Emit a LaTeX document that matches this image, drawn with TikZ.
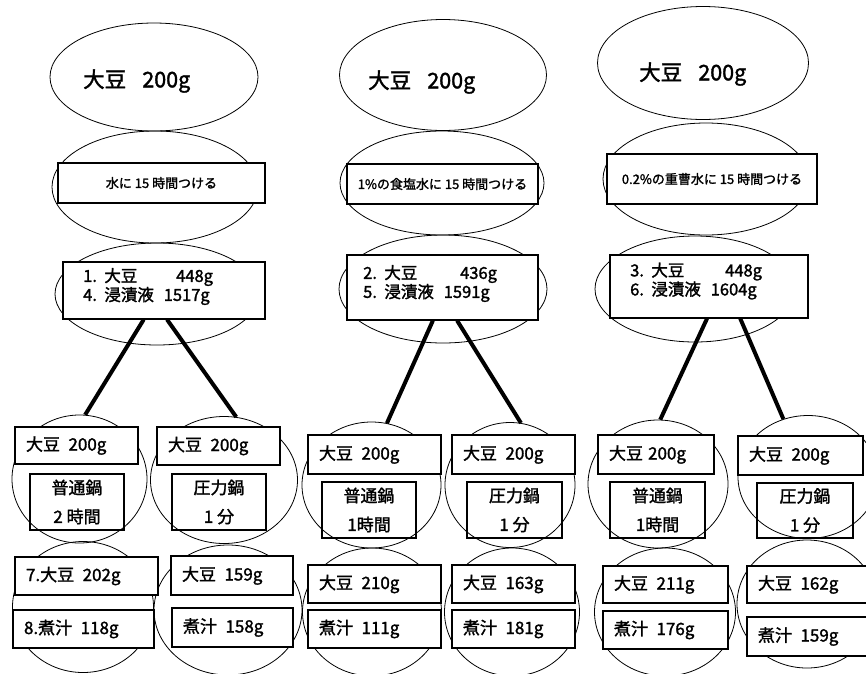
\documentclass[tikz,border=0pt]{standalone}
\usepackage{fontspec}
\setmainfont{Noto Sans CJK JP}[FakeBold=1.6]
\usetikzlibrary{shapes.geometric,calc}
\tikzset{
 el/.style={ellipse, draw, line width=0.8pt, inner sep=0pt},
 bx/.style={rectangle, draw, line width=1.1pt, fill=white, inner sep=0pt},
 pot/.style={fill=none, align=center, font=\fontsize{17}{29}\selectfont},
 link/.style={line width=4pt},
 big/.style={font=\fontsize{21.5}{25}\selectfont, inner sep=0pt, anchor=west},
 soak/.style={font=\fontsize{13}{15}\selectfont},
 res/.style={font=\fontsize{16.5}{19}\selectfont, inner sep=0pt, anchor=west, align=left},
 sm/.style={font=\fontsize{17}{20}\selectfont},
}
\newcommand\jbox[7]{%
  \pgfmathsetmacro\jbw{#5-#3}%
  \pgfmathsetmacro\jbh{#6-#4}%
  \pgfmathsetmacro\jbcx{(#3+#5)/2}%
  \pgfmathsetmacro\jbcy{(#4+#6)/2}%
  \node[bx, minimum width=\jbw pt, minimum height=\jbh pt, #1] (#2) at (\jbcx,\jbcy) {#7};}
\newcommand\lbox[7]{%
  \pgfmathsetmacro\jbw{#5-#3}%
  \pgfmathsetmacro\jbtw{#5-#3-22}%
  \pgfmathsetmacro\jbh{#6-#4}%
  \pgfmathsetmacro\jbcx{(#3+#5)/2}%
  \pgfmathsetmacro\jbcy{(#4+#6)/2}%
  \node[bx, minimum width=\jbw pt, minimum height=\jbh pt, #1] (#2) at (\jbcx,\jbcy) {\makebox[\jbtw pt][l]{#7}};}
\begin{document}
\begin{tikzpicture}[x=1pt,y=-1pt]
\useasboundingbox (0,0) rectangle (866,673);
\clip (0,0) rectangle (866,673);
\fill[white] (0,0) rectangle (866,673);

% ---- top ellipses
\node[el, minimum width=208pt, minimum height=108pt] (E1a) at (154,77) {};
\node[el, minimum width=206pt, minimum height=112pt] (E1b) at (155,187) {};
\node[el, minimum width=204pt, minimum height=102pt] (E1c) at (157,294) {};
\node[el, minimum width=207pt, minimum height=111pt] (E2a) at (443,75) {};
\node[el, minimum width=204pt, minimum height=104pt] (E2b) at (442,183) {};
\node[el, minimum width=208pt, minimum height=108pt] (E2c) at (443,289) {};
\node[el, minimum width=211pt, minimum height=113pt] (E3a) at (703,63) {};
\node[el, minimum width=206pt, minimum height=112pt] (E3b) at (706,179) {};
\node[el, minimum width=200pt, minimum height=106pt] (E3c) at (695,289) {};

\node[big] (T1a) at (83,81) {大豆\hspace{0.75em}200g};
\node[big] (T2a) at (368,82) {大豆\hspace{0.75em}200g};
\node[big] (T3a) at (639,74) {大豆\hspace{0.75em}200g};

% ---- soaking boxes
\jbox{soak}{B1b}{58}{163}{265}{203}{水に 15 時間つける}
\jbox{soak}{B2b}{347}{164}{538}{204}{1\%の食塩水に 15 時間つける}
\jbox{soak}{B3b}{607}{154}{817}{204}{0.2\%の重曹水に 15 時間つける}

% ---- result boxes
\jbox{}{B1c}{63}{262}{265}{319}{}
\jbox{}{B2c}{347}{255}{538}{320}{}
\jbox{}{B3c}{610}{255}{808}{318}{}
\node[res] (T1c) at (83,286.5) {\makebox[93pt][l]{1.\hspace{0.45em}大豆}448g\\4.\hspace{0.45em}浸漬液\hspace{0.6em}1517g};
\node[res] (T2c) at (363,283.5) {\makebox[97pt][l]{2.\hspace{0.45em}大豆}436g\\5.\hspace{0.45em}浸漬液\hspace{0.6em}1591g};
\node[res] (T3c) at (630,281) {\makebox[95pt][l]{3.\hspace{0.45em}大豆}448g\\6.\hspace{0.45em}浸漬液\hspace{0.6em}1604g};

% ---- bottom circles
\node[el, minimum width=135pt, minimum height=128pt] (C1a) at (79.5,479) {};
\node[el, minimum width=147pt, minimum height=127pt] (C1b) at (224,480) {};
\node[el, minimum width=141pt, minimum height=131pt] (C1c) at (83,607) {};
\node[el, minimum width=148pt, minimum height=130pt] (C1d) at (228,610) {};
\node[el, minimum width=139pt, minimum height=126pt] (C2a) at (371.5,485) {};
\node[el, minimum width=130pt, minimum height=125pt] (C2b) at (510,485) {};
\node[el, minimum width=139pt, minimum height=128pt] (C2c) at (372,612) {};
\node[el, minimum width=135pt, minimum height=128pt] (C2d) at (512,612) {};
\node[el, minimum width=140pt, minimum height=128pt] (C3a) at (658,484) {};
\node[el, minimum width=140pt, minimum height=123pt] (C3b) at (808,477) {};
\node[el, minimum width=141pt, minimum height=128pt] (C3c) at (665,612) {};
\node[el, minimum width=140pt, minimum height=128pt] (C3d) at (807,604) {};

% ---- connectors
\draw[link] ($(B1c.south west)!0.40!(B1c.south east)$) -- (C1a.85);
\draw[link] ($(B1c.south west)!0.515!(B1c.south east)$) -- (C1b.79);
\draw[link] ($(B2c.south west)!0.45!(B2c.south east)$) -- (C2a.76);
\draw[link] ($(B2c.south west)!0.576!(B2c.south east)$) -- (C2b.80);
\draw[link] ($(B3c.south west)!0.49!(B3c.south east)$) -- (C3a.88);
\draw[link] ($(B3c.south west)!0.657!(B3c.south east)$) -- (C3b.113);

% ---- bottom boxes, column 1
\lbox{sm}{D1a}{15}{427}{138}{464}{大豆\hspace{0.5em}200g}
\jbox{pot}{P1a}{30}{474}{124}{530}{普通鍋\\2 時間}
\lbox{sm}{D1b}{157}{427}{280}{465}{大豆\hspace{0.5em}200g}
\jbox{pot}{P1b}{172}{474}{266}{530}{圧力鍋\\1 分}
\lbox{sm}{R1a}{15}{557}{158}{595}{7.大豆\hspace{0.5em}202g}
\lbox{sm}{R1b}{13}{610}{154}{648}{8.煮汁\hspace{0.5em}118g}
\lbox{sm}{R1c}{171}{556}{293}{595}{大豆\hspace{0.5em}159g}
\lbox{sm}{R1d}{172}{608}{293}{647}{煮汁\hspace{0.5em}158g}

% ---- bottom boxes, column 2
\lbox{sm}{D2a}{308}{435}{441}{474}{大豆\hspace{0.5em}200g}
\jbox{pot}{P2a}{322}{482}{416}{538}{普通鍋\\1時間}
\lbox{sm}{D2b}{452}{435}{575}{474}{大豆\hspace{0.5em}200g}
\jbox{pot}{P2b}{467}{482}{562}{538}{圧力鍋\\1 分}
\lbox{sm}{R2a}{308}{565}{441}{603}{大豆\hspace{0.5em}210g}
\lbox{sm}{R2b}{308}{610}{441}{648}{煮汁\hspace{0.5em}111g}
\lbox{sm}{R2c}{452}{565}{575}{603}{大豆\hspace{0.5em}163g}
\lbox{sm}{R2d}{452}{610}{575}{648}{煮汁\hspace{0.5em}181g}

% ---- bottom boxes, column 3
\lbox{sm}{D3a}{598}{435}{714}{474}{大豆\hspace{0.3em}200g}
\jbox{pot}{P3a}{610}{482}{705}{538}{普通鍋\\1時間}
\lbox{sm}{D3b}{738}{436}{863}{475}{大豆\hspace{0.5em}200g}
\jbox{pot}{P3b}{757}{483}{853}{538}{圧力鍋\\1 分}
\lbox{sm}{R3a}{603}{566}{728}{603}{大豆\hspace{0.5em}211g}
\lbox{sm}{R3b}{603}{611}{728}{649}{煮汁\hspace{0.5em}176g}
\lbox{sm}{R3c}{747}{566}{880}{603}{大豆\hspace{0.5em}162g}
\lbox{sm}{R3d}{747}{617}{880}{656}{煮汁\hspace{0.5em}159g}
\end{tikzpicture}
\end{document}
